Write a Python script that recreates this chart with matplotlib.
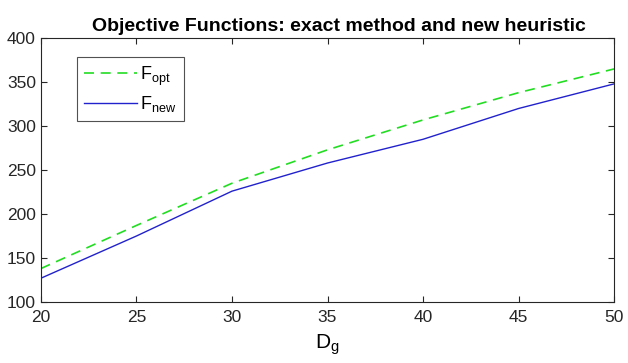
import matplotlib
matplotlib.use("Agg")
import matplotlib.pyplot as plt

plt.rcParams['font.family'] = ['Liberation Sans', 'DejaVu Sans']
plt.rcParams['mathtext.fontset'] = 'custom'
plt.rcParams['mathtext.rm'] = 'Liberation Sans'

dg = [20, 25, 30, 35, 40, 45, 50]
f_opt = [138, 187, 235, 273, 307, 338, 365]
f_new = [127, 175, 226, 258, 285, 320, 348]

fig = plt.figure(figsize=(6.28, 3.63), dpi=100)
ax = fig.add_axes([0.065, 0.168, 0.913, 0.727])

ax.plot(dg, f_opt, color='#22dd22', linestyle=(0, (6, 4)), linewidth=1.2, label=r'F$_{\mathregular{opt}}$')
ax.plot(dg, f_new, color='#2222cc', linewidth=1.0, label=r'F$_{\mathregular{new}}$')

ax.set_xlim(20, 50)
ax.set_ylim(100, 400)
ax.set_xticks(dg)
ax.set_yticks(range(100, 401, 50))
ax.tick_params(direction='in', top=True, right=True, labelsize=12.5, colors='#262626', length=4)
ax.tick_params(axis='x', pad=6)
for s in ax.spines.values():
    s.set_color('#262626')
    s.set_linewidth(0.8)

ax.set_title('Objective Functions: exact method and new heuristic', fontsize=14, fontweight='bold',
             pad=5, x=0.52)
ax.set_xlabel(r'D$_{\mathregular{g}}$', fontsize=15, labelpad=5)

leg = ax.legend(loc='upper left', bbox_to_anchor=(0.063, 0.928), borderaxespad=0, fontsize=13,
                frameon=True, fancybox=False, edgecolor='#262626', handlelength=2.9,
                borderpad=0.4, labelspacing=0.35, handletextpad=0.2)
leg.get_frame().set_linewidth(0.8)

fig.savefig('out.png', dpi=100)
